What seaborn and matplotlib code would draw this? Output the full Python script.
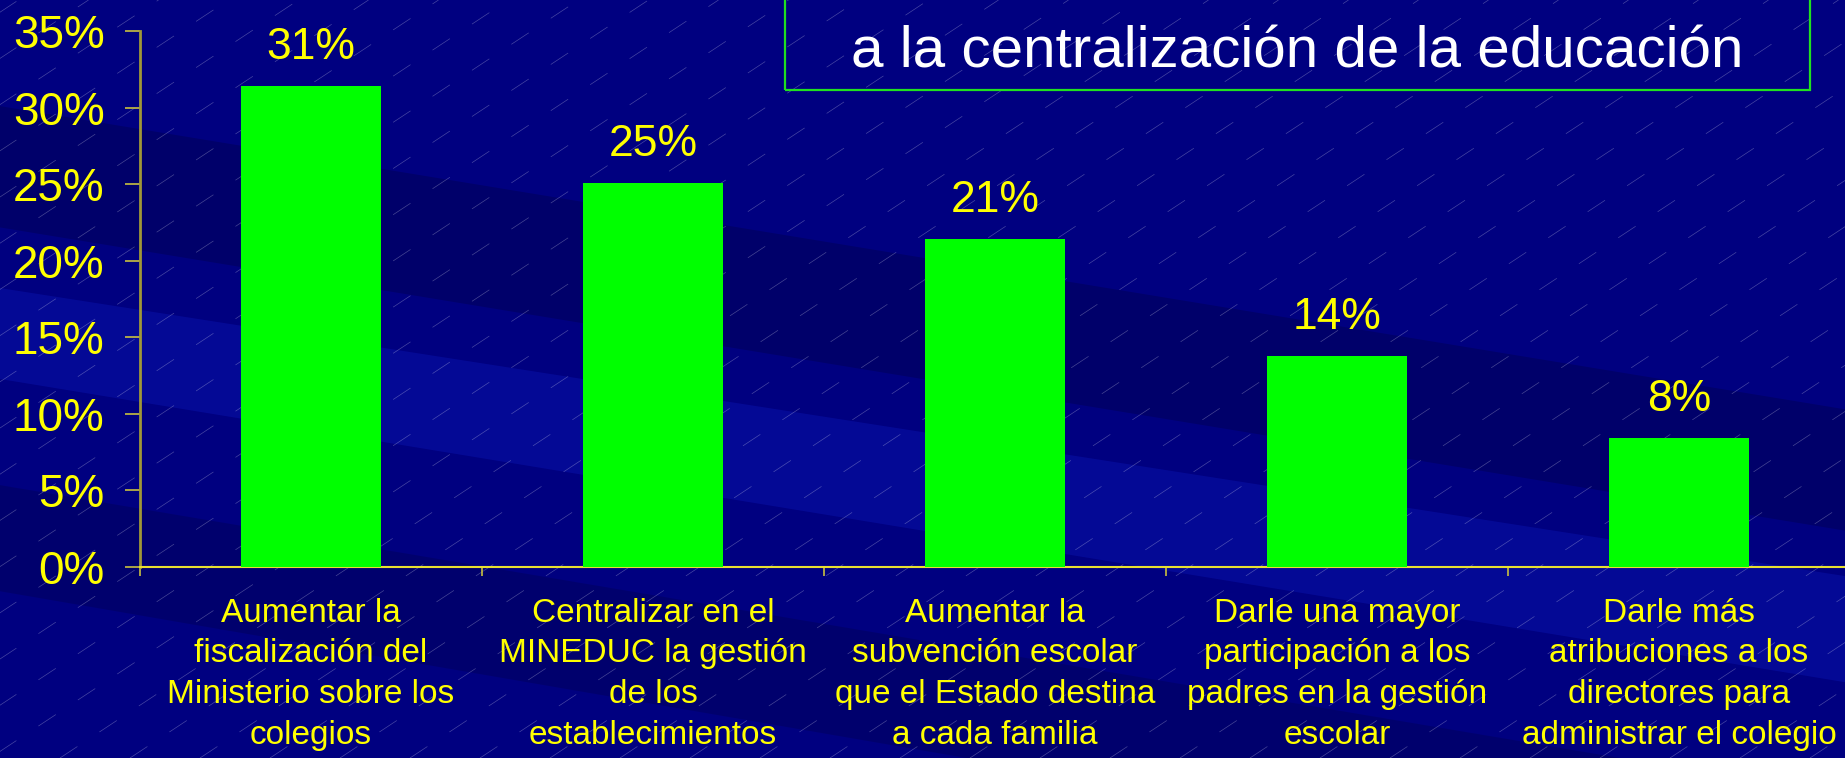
import numpy as np
import pandas as pd
import seaborn as sns
import matplotlib.pyplot as plt
from matplotlib.patches import Rectangle, Polygon

categorias = [
    'Aumentar la\nfiscalización del\nMinisterio sobre los\ncolegios',
    'Centralizar en el\nMINEDUC la gestión\nde los\nestablecimientos',
    'Aumentar la\nsubvención escolar\nque el Estado destina\na cada familia',
    'Darle una mayor\nparticipación a los\npadres en la gestión\nescolar',
    'Darle más\natribuciones a los\ndirectores para\nadministrar el colegio',
]
porcentajes = [31.4, 25.1, 21.4, 13.8, 8.4]
y_ticks = [0, 5, 10, 15, 20, 25, 30, 35]
titulo = 'a la centralización de la educación'

data = pd.DataFrame({'categoria': categorias, 'valor': porcentajes})

sns.set_theme(style='white')
plt.rcParams['font.family'] = ['Liberation Sans', 'DejaVu Sans']

fondo = '#000080'
amarillo = '#ffff00'

fig = plt.figure(figsize=(18.45, 7.58), dpi=100)
fig.patch.set_facecolor(fondo)

# fondo: bandas diagonales mas claras / oscuras
bandas = [
    ([(0, 0.86), (0, 0.70), (1, 0.30), (1, 0.46)], '#000058', 0.55),
    ([(0, 0.62), (0, 0.50), (1, 0.10), (1, 0.24)], '#0a14b0', 0.45),
    ([(0, 0.36), (0, 0.22), (1, -0.2), (1, -0.05)], '#000058', 0.45),
]
for pts, col, a in bandas:
    fig.add_artist(Polygon(pts, closed=True, transform=fig.transFigure,
                           facecolor=col, edgecolor='none', alpha=a, zorder=0))

# fondo: lineas finas diagonales discontinuas
W, H = 1845, 758
pend = 0.66
for x0 in np.arange(-1200, W + 60, 70):
    xs = np.array([x0, x0 + H / pend])
    ys = np.array([0, H])
    fig.add_artist(plt.Line2D(xs / W, ys / H, transform=fig.transFigure,
                              color='white', lw=0.5, alpha=0.28,
                              linestyle=(0, (30, 38)), zorder=0.5))

ax = fig.add_axes([140 / W, 1 - 567 / H, 1710 / W, (567 - 31) / H])
ax.set_facecolor('none')
ax.set_zorder(3)

sns.barplot(data=data, x='categoria', y='valor', color='#00ff00', saturation=1,
            width=0.41, linewidth=0, ax=ax, zorder=3)

ax.bar_label(ax.containers[0], labels=[f'{v:.0f}%' for v in porcentajes],
             padding=13, color=amarillo, fontsize=32)

ax.set_xlim(-0.5, 4.5)
ax.set_ylim(0, 35)
ax.set_yticks(y_ticks)
ax.set_yticklabels([f'{t}%' for t in y_ticks], color=amarillo, fontsize=33)

ax.set_xticks(np.arange(-0.5, 5, 1))
ax.set_xticklabels([''] * 6)
ax.set_xticks(range(len(categorias)), minor=True)
ax.set_xticklabels(categorias, minor=True, color=amarillo, fontsize=24,
                   linespacing=1.41, ha='center', va='top')

ax.tick_params(axis='y', which='major', direction='out', length=10.5, width=1.2,
               color='#c8c040', pad=15, left=True)
ax.tick_params(axis='x', which='major', direction='out', length=6.5, width=1.2,
               color='#c8c040', bottom=True)
ax.tick_params(axis='x', which='minor', length=0, pad=22)

ax.set_xlabel('')
ax.set_ylabel('')
for s in ['top', 'right']:
    ax.spines[s].set_visible(False)
ax.spines['left'].set_color('#a09838')
ax.spines['left'].set_linewidth(2)
ax.spines['bottom'].set_color('#e8e030')
ax.spines['bottom'].set_linewidth(1.5)

# recuadro del titulo
fig.add_artist(Rectangle((785 / W, 1 - 90 / H), 1025 / W, 0.3,
                         transform=fig.transFigure, facecolor='none',
                         edgecolor='#20e020', lw=1.6, zorder=5))
fig.text(1297 / W, 1 - 53 / H, titulo, color='white', fontsize=42,
         ha='center', va='center', zorder=6)

fig.savefig('out.png', dpi=100, facecolor=fig.get_facecolor())
